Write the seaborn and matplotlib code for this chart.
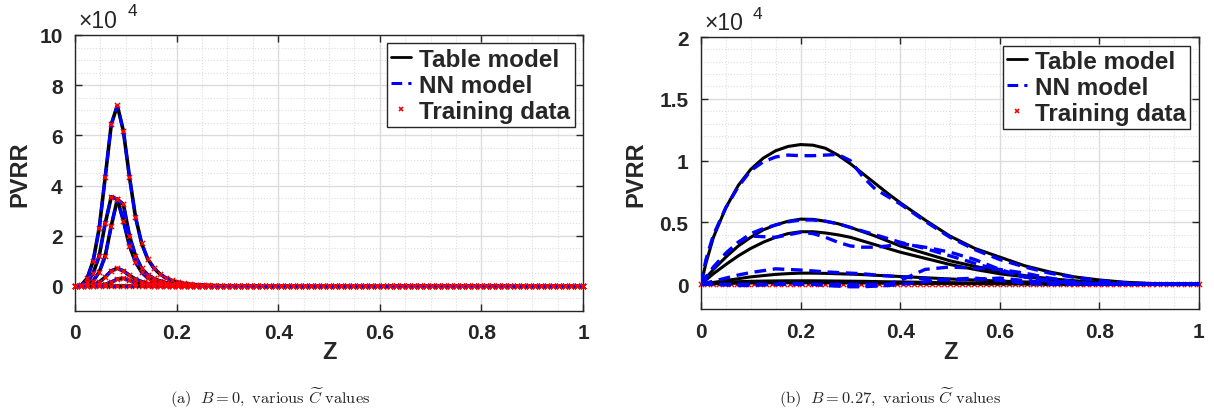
import numpy as np
import pandas as pd
import matplotlib
matplotlib.use("Agg")
import matplotlib.pyplot as plt
from matplotlib.lines import Line2D
from matplotlib.ticker import MultipleLocator
import seaborn as sns


# Z grid of the training data (85 points from 0 to 1)
N_TRAIN = 85
z_train = np.round(np.arange(N_TRAIN) / (N_TRAIN - 1), 4)


def pad(vals, n):
  # values read up to where the curve reaches zero, zero afterwards
  return list(vals) + [0.0] * (n - len(vals))


# (a) B = 0, PVRR in units of 1e4 on the training grid
pvrr_a1 = pad([0, 0.02, 0.3, 1.0, 2.3, 4.35, 6.44, 7.19, 6.17, 4.35, 2.75, 1.7, 1.08,
               0.72, 0.48, 0.32, 0.22, 0.15, 0.1, 0.07, 0.05, 0.035, 0.025, 0.015, 0.01], N_TRAIN)
pvrr_a2 = pad([0, 0.02, 0.15, 0.5, 1.2, 2.5, 3.55, 3.45, 2.6, 1.6, 0.95, 0.55, 0.32,
               0.2, 0.12, 0.08, 0.05, 0.03, 0.02, 0.01], N_TRAIN)
pvrr_a3 = pad([0, 0, 0.05, 0.2, 0.55, 1.2, 2.4, 3.45, 3.25, 2.0, 1.2, 0.7, 0.45,
               0.3, 0.2, 0.13, 0.09, 0.06, 0.04, 0.03, 0.02, 0.01], N_TRAIN)
pvrr_a4 = pad([0, 0, 0, 0.05, 0.15, 0.35, 0.6, 0.7, 0.6, 0.42, 0.27, 0.17, 0.1,
               0.06, 0.04, 0.02, 0.01], N_TRAIN)
pvrr_a5 = pad([0, 0, 0, 0, 0.02, 0.06, 0.15, 0.27, 0.3, 0.22, 0.12, 0.06, 0.03, 0.01], N_TRAIN)
pvrr_a6 = pad([0], N_TRAIN)
curves_a = [pvrr_a1, pvrr_a2, pvrr_a3, pvrr_a4, pvrr_a5, pvrr_a6]

# (b) B = 0.27, PVRR in units of 1e4
z_line = [0, 0.01, 0.025, 0.05, 0.075, 0.1, 0.125, 0.15, 0.175, 0.2, 0.225, 0.25, 0.275,
          0.3, 0.325, 0.35, 0.375, 0.4, 0.45, 0.5, 0.55, 0.6, 0.65, 0.7, 0.75, 0.8,
          0.85, 0.9, 0.95, 1.0]

table_b1 = [0, 0.17, 0.38, 0.62, 0.8, 0.93, 1.02, 1.08, 1.115, 1.13, 1.125, 1.1, 1.045,
            0.975, 0.895, 0.815, 0.735, 0.66, 0.52, 0.39, 0.29, 0.22, 0.15, 0.1, 0.06,
            0.035, 0.017, 0.007, 0.002, 0]
table_b2 = [0, 0.05, 0.12, 0.22, 0.31, 0.38, 0.44, 0.48, 0.51, 0.527, 0.525, 0.51, 0.49,
            0.46, 0.425, 0.39, 0.35, 0.31, 0.25, 0.19, 0.145, 0.105, 0.07, 0.045, 0.028,
            0.016, 0.008, 0.003, 0.001, 0]
table_b3 = [0, 0.035, 0.085, 0.16, 0.23, 0.29, 0.34, 0.38, 0.41, 0.425, 0.425, 0.415, 0.4,
            0.38, 0.35, 0.32, 0.29, 0.26, 0.21, 0.16, 0.12, 0.085, 0.06, 0.04, 0.025,
            0.014, 0.007, 0.003, 0.001, 0]
table_b4 = [0, 0.006, 0.015, 0.03, 0.045, 0.06, 0.07, 0.08, 0.086, 0.09, 0.09, 0.088,
            0.085, 0.082, 0.078, 0.073, 0.068, 0.063, 0.053, 0.043, 0.034, 0.026, 0.019,
            0.013, 0.008, 0.005, 0.002, 0.001, 0, 0]
table_b5 = [0, 0.004, 0.009, 0.016, 0.021, 0.024, 0.026, 0.027, 0.028, 0.028, 0.028,
            0.027, 0.026, 0.025, 0.024, 0.022, 0.02, 0.019, 0.016, 0.013, 0.01, 0.008,
            0.006, 0.004, 0.003, 0.002, 0.001, 0, 0, 0]
table_b6 = [0, 0.002, 0.004, 0.007, 0.009, 0.011, 0.012, 0.012, 0.013, 0.013, 0.013,
            0.012, 0.012, 0.011, 0.011, 0.01, 0.009, 0.008, 0.007, 0.006, 0.005, 0.004,
            0.003, 0.002, 0.001, 0.001, 0, 0, 0, 0]

nn_b1 = [0, 0.2, 0.4, 0.62, 0.79, 0.92, 0.99, 1.03, 1.045, 1.04, 1.04, 1.045, 1.05,
         1.0, 0.87, 0.77, 0.71, 0.65, 0.51, 0.38, 0.28, 0.2, 0.14, 0.09, 0.055, 0.03,
         0.012, 0.004, 0, 0]
nn_b2 = [0, 0.06, 0.14, 0.25, 0.34, 0.41, 0.45, 0.48, 0.505, 0.52, 0.52, 0.51, 0.49,
         0.46, 0.43, 0.4, 0.37, 0.34, 0.29, 0.23, 0.17, 0.11, 0.06, 0.03, 0.01, 0.005,
         0, 0, 0, 0]
nn_b3 = [0, 0.05, 0.13, 0.25, 0.34, 0.39, 0.385, 0.38, 0.4, 0.42, 0.41, 0.38, 0.34,
         0.31, 0.3, 0.3, 0.31, 0.33, 0.3, 0.26, 0.2, 0.12, 0.06, 0.02, 0.01, 0, 0, 0, 0, 0]
nn_b4 = [0, 0.01, 0.025, 0.05, 0.075, 0.095, 0.11, 0.125, 0.12, 0.115, 0.108, 0.1,
         0.095, 0.09, 0.085, 0.075, 0.068, 0.06, 0.045, 0.035, 0.04, 0.05, 0.03, 0.01,
         0, 0, 0, 0, 0, 0]
nn_b5 = [0, 0, 0, 0, 0, 0, 0, 0, 0, 0, 0, 0, 0, 0, 0, 0, 0, 0.03, 0.12, 0.14, 0.13,
         0.12, 0.09, 0.05, 0.02, 0, 0, 0, 0, 0]
nn_b6 = [0, 0, 0, -0.005, -0.01, -0.01, -0.005, 0, 0.01, 0.005, 0, -0.01, -0.015, -0.02,
         -0.02, -0.015, -0.01, 0, 0.02, 0.04, 0.05, 0.03, 0.01, 0, 0, 0, 0, 0, 0, 0]
train_b = [0.0] * N_TRAIN

tables_b = [table_b1, table_b2, table_b3, table_b4, table_b5, table_b6]
nns_b = [nn_b1, nn_b2, nn_b3, nn_b4, nn_b5, nn_b6]

legend_labels = ["Table model", "NN model", "Training data"]
captions = [r"$\mathrm{(a)}\ \ B = 0,\ \mathrm{various}\ \widetilde{C}\ \mathrm{values}$",
            r"$\mathrm{(b)}\ \ B = 0.27,\ \mathrm{various}\ \widetilde{C}\ \mathrm{values}$"]

DARK = "#262626"
NN_DASH = (0, (3.5, 2))

sns.set_theme(style="white")
plt.rcParams["font.family"] = ["Liberation Sans", "DejaVu Sans"]
plt.rcParams["mathtext.fontset"] = "cm"
plt.rcParams["axes.edgecolor"] = DARK
plt.rcParams["axes.linewidth"] = 1.0

fig = plt.figure(figsize=(12.14, 4.14), dpi=100)
ax_a = fig.add_axes([0.0618, 0.2464, 0.4185, 0.6667])
ax_b = fig.add_axes([0.5774, 0.2512, 0.4102, 0.657])


def style_axes(ax, ylim, yminor, yticklabels, ylab_x, zlab_y):
  ax.set_xlim(0, 1)
  ax.set_ylim(*ylim)
  ax.xaxis.set_minor_locator(MultipleLocator(0.05))
  ax.yaxis.set_minor_locator(MultipleLocator(yminor))
  ax.set_xticks([0, 0.2, 0.4, 0.6, 0.8, 1.0])
  ax.set_xticklabels(["0", "0.2", "0.4", "0.6", "0.8", "1"])
  ax.set_yticks([float(t) for t in yticklabels])
  ax.set_yticklabels(yticklabels)
  ax.grid(which="major", color="#dcdcdc", lw=1.0, ls="-")
  ax.grid(which="minor", color="#dedede", lw=0.8, ls=":")
  ax.set_axisbelow(True)
  ax.tick_params(which="major", direction="in", length=5, width=1, color=DARK,
                 top=True, right=True, bottom=True, left=True,
                 labelsize=15, labelcolor=DARK, pad=9)
  ax.tick_params(which="minor", length=0)
  for lab in ax.get_xticklabels() + ax.get_yticklabels():
    lab.set_fontweight("bold")
  for sp in ax.spines.values():
    sp.set_visible(True)
    sp.set_color(DARK)
  ax.set_xlabel("Z", fontsize=17, fontweight="bold", color=DARK)
  ax.set_ylabel("PVRR", fontsize=17, fontweight="bold", color=DARK)
  ax.yaxis.set_label_coords(ylab_x, 0.5)
  ax.xaxis.set_label_coords(0.5, zlab_y)
  ax.text(0.006, 1.01, "\u00d710", transform=ax.transAxes, fontsize=16.5,
          color=DARK, ha="left", va="bottom")
  ax.text(0.103, 1.06, "4", transform=ax.transAxes, fontsize=12.5,
          color=DARK, ha="left", va="bottom")
  handles = [Line2D([], [], color="black", lw=2),
             Line2D([], [], color="blue", lw=2.2, ls=NN_DASH),
             Line2D([], [], color="red", marker="x", ls="none", ms=3.5, mew=1.2)]
  leg = ax.legend(handles, legend_labels, loc="upper right", frameon=True,
                  fancybox=False, framealpha=1, edgecolor=DARK,
                  prop={"weight": "bold", "size": 17.5, "family": "Liberation Sans"},
                  handlelength=0.8, handletextpad=0.35, labelspacing=0.12,
                  borderpad=0.18, borderaxespad=0.35)
  leg.get_frame().set_linewidth(1.0)


# panel (a): table, NN and training data coincide on the training grid
for vals in curves_a:
  sns.lineplot(x=z_train, y=vals, ax=ax_a, color="black", lw=2.6, sort=False,
               estimator=None, zorder=3)
for vals in curves_a:
  sns.lineplot(x=z_train, y=vals, ax=ax_a, color="blue", lw=2.2, sort=False,
               estimator=None, linestyle=NN_DASH, zorder=4)
for vals in curves_a:
  sns.scatterplot(x=z_train, y=vals, ax=ax_a, color="red", marker="x", s=14,
                  linewidth=1.0, zorder=5, clip_on=False)

# panel (b)
for vals in tables_b:
  sns.lineplot(x=z_line, y=vals, ax=ax_b, color="black", lw=2.2, sort=False,
               estimator=None, zorder=3)
for vals in nns_b:
  sns.lineplot(x=z_line, y=vals, ax=ax_b, color="blue", lw=2.4, sort=False,
               estimator=None, linestyle=NN_DASH, zorder=4)
sns.scatterplot(x=z_train, y=train_b, ax=ax_b, color="red", marker="x", s=14,
                linewidth=1.0, zorder=2, clip_on=False)

style_axes(ax_a, (-1, 10), 0.5, ["0", "2", "4", "6", "8", "10"], -0.086, -0.105)
style_axes(ax_b, (-0.2, 2), 0.1, ["0", "0.5", "1", "1.5", "2"], -0.108, -0.115)

fig.text(270 / 1214, 1 - 398 / 414, captions[0], ha="center", va="center", fontsize=11.8)
fig.text(890 / 1214, 1 - 398 / 414, captions[1], ha="center", va="center", fontsize=11.8)

fig.savefig("out.png", dpi=100, facecolor="white")
